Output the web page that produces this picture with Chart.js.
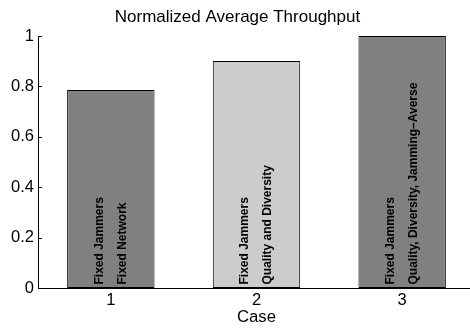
<!DOCTYPE html>
<html>
<head>
<meta charset="utf-8">
<style>
  html, body { margin: 0; padding: 0; background: #fff; overflow: hidden; width: 470px; height: 331px; }
  canvas { display: block; }
</style>
<script src="https://cdn.jsdelivr.net/npm/chart.js@4/dist/chart.umd.min.js"></script>
</head>
<body>
<canvas id="c" width="480" height="331"></canvas>
<script>
// ---- data ----
const categories = ['1', '2', '3'];
const throughput = [0.786, 0.901, 1.0];
const barColors = ['#808080', '#cccccc', '#808080'];
const barTextLine1 = ['Fixed Jammers', 'Fixed Jammers', 'Fixed Jammers'];
const barTextLine2 = ['Fixed Network', 'Quality and Diversity', 'Quality, Diversity, Jamming\u2013Averse'];
const yTicks = [0, 0.2, 0.4, 0.6, 0.8, 1];
const chartTitle = 'Normalized Average Throughput';
const xTitle = 'Case';

const FONT = "'Liberation Sans', Arial, Helvetica, sans-serif";

const inwardTicks = {
  id: 'inwardTicks',
  afterDraw(chart) {
    const ctx = chart.ctx;
    const ys = chart.scales.y;
    const left = chart.chartArea.left;
    ctx.save();
    ctx.strokeStyle = '#000';
    ctx.lineWidth = 1;
    ctx.beginPath();
    yTicks.forEach(v => {
      const py = Math.round(ys.getPixelForValue(v)) + 0.5;
      ctx.moveTo(left, py);
      ctx.lineTo(left + 4, py);
    });
    ctx.stroke();
    ctx.restore();
  }
};

const barText = {
  id: 'barText',
  afterDatasetsDraw(chart) {
    const ctx = chart.ctx;
    const meta = chart.getDatasetMeta(0);
    const base = chart.scales.y.getPixelForValue(0);
    ctx.save();
    ctx.fillStyle = '#000';
    ctx.font = 'bold 12px ' + FONT;
    ctx.textAlign = 'left';
    ctx.textBaseline = 'middle';
    meta.data.forEach((bar, i) => {
      const lines = [barTextLine1[i], barTextLine2[i]];
      lines.forEach((t, j) => {
        ctx.save();
        ctx.translate(bar.x + (j === 0 ? -11.5 : 11.5), base - 3.5);
        ctx.rotate(-Math.PI / 2);
        ctx.fillText(t, 0, 0);
        ctx.restore();
      });
    });
    ctx.restore();
  }
};

new Chart(document.getElementById('c'), {
  type: 'bar',
  data: {
    labels: categories,
    datasets: [{
      data: throughput,
      backgroundColor: barColors,
      borderColor: '#000',
      borderWidth: 1,
      borderSkipped: false,
      categoryPercentage: 1.0,
      barPercentage: 0.6
    }]
  },
  options: {
    responsive: false,
    devicePixelRatio: 1,
    animation: false,
    layout: { padding: { left: 0, right: 5, top: 0, bottom: 0 } },
    plugins: {
      legend: { display: false },
      tooltip: { enabled: false },
      title: {
        display: true,
        text: chartTitle,
        color: '#000',
        font: { family: FONT, size: 17, weight: 'normal' },
        padding: { top: 6.8, bottom: 8.8 }
      }
    },
    scales: {
      x: {
        type: 'category',
        offset: true,
        grid: { display: false, drawTicks: false },
        border: { display: true, color: '#000', width: 1 },
        ticks: { color: '#000', font: { family: FONT, size: 16.5 }, padding: 3, maxRotation: 0 },
        title: {
          display: true,
          text: xTitle,
          color: '#000',
          font: { family: FONT, size: 16.8 },
          padding: { top: 0, bottom: 4 }
        },
        afterFit(scale) { scale.height = 43; }
      },
      y: {
        min: 0,
        max: 1,
        afterBuildTicks(scale) { scale.ticks = yTicks.map(v => ({ value: v })); },
        grid: { display: false, drawTicks: false },
        border: { display: true, color: '#000', width: 1 },
        ticks: {
          color: '#000',
          font: { family: FONT, size: 16.5 },
          padding: 4,
          callback: v => String(Math.round(v * 10) / 10)
        },
        afterFit(scale) { scale.width = 38; }
      }
    }
  },
  plugins: [inwardTicks, barText]
});
</script>
</body>
</html>
